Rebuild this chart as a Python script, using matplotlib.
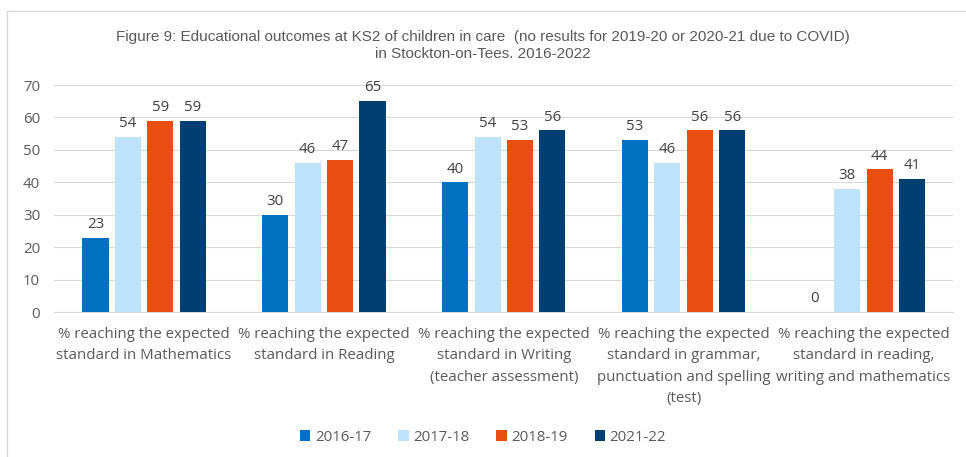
import matplotlib
matplotlib.use("Agg")
import matplotlib.pyplot as plt
import numpy as np
from matplotlib.patches import Rectangle

# chart data
categories = [
    "% reaching the expected\nstandard in Mathematics",
    "% reaching the expected\nstandard in Reading",
    "% reaching the expected\nstandard in Writing\n(teacher assessment)",
    "% reaching the expected\nstandard in grammar,\npunctuation and spelling\n(test)",
    "% reaching the expected\nstandard in reading,\nwriting and mathematics",
]
years = ["2016-17", "2017-18", "2018-19", "2021-22"]
y2016 = [23, 30, 40, 53, 0]
y2017 = [54, 46, 54, 46, 38]
y2018 = [59, 47, 53, 56, 44]
y2021 = [59, 65, 56, 56, 41]
colors = ["#0070C0", "#BDE3FB", "#E84E0F", "#003F72"]

title = ("Figure 9: Educational outcomes at KS2 of children in care  (no results for 2019-20 or 2020-21 due to COVID)\n"
         "in Stockton-on-Tees. 2016-2022")

txt = "#595959"
plt.rcParams['font.family'] = ['Open Sans', 'DejaVu Sans']

fig = plt.figure(figsize=(9.66, 4.57), dpi=100)
ax = fig.add_axes([0.056, 0.317, 0.931, 0.497])

x = np.arange(len(categories))
step = 0.18
width = 0.145
series = [y2016, y2017, y2018, y2021]
for i, (vals, col, lab) in enumerate(zip(series, colors, years)):
    pos = x + (i - 1.5) * step
    ax.bar(pos, vals, width, color=col, label=lab, zorder=3)
    for p, v in zip(pos, vals):
        ax.text(p, v + 1.8, str(v), ha="center", va="bottom", fontsize=10.8, color="#404040")

ax.set_xlim(-0.5, len(categories) - 0.5)
ax.set_ylim(0, 70)
ax.set_yticks(range(0, 71, 10))
ax.yaxis.grid(True, color="#D9D9D9", linewidth=0.8, zorder=0)
ax.set_axisbelow(True)
for s in ["top", "right", "left"]:
    ax.spines[s].set_visible(False)
ax.spines["bottom"].set_color("#D9D9D9")
ax.tick_params(axis="both", length=0, colors=txt, labelsize=10.8)
ax.tick_params(axis="y", pad=10)
ax.tick_params(axis="x", pad=11)
ax.set_xticks(x)
ax.set_xticklabels(categories, linespacing=1.55)

fig.text(0.5, 0.9, title, ha="center", va="center", fontsize=11, color=txt,
         family=["Liberation Sans Narrow", "Liberation Sans", "DejaVu Sans"], linespacing=1.25)

leg = fig.legend(loc="center", bbox_to_anchor=(0.5, 0.043), ncol=4, frameon=False,
                 fontsize=10.8, handlelength=0.7, handleheight=0.7, handletextpad=0.3,
                 columnspacing=1.8, labelcolor=txt)

fig.patches.append(Rectangle((0.007, -0.01), 1.0, 0.985, transform=fig.transFigure,
                             fill=False, edgecolor="#D9D9D9", linewidth=1))

fig.savefig("out.png", dpi=100)
